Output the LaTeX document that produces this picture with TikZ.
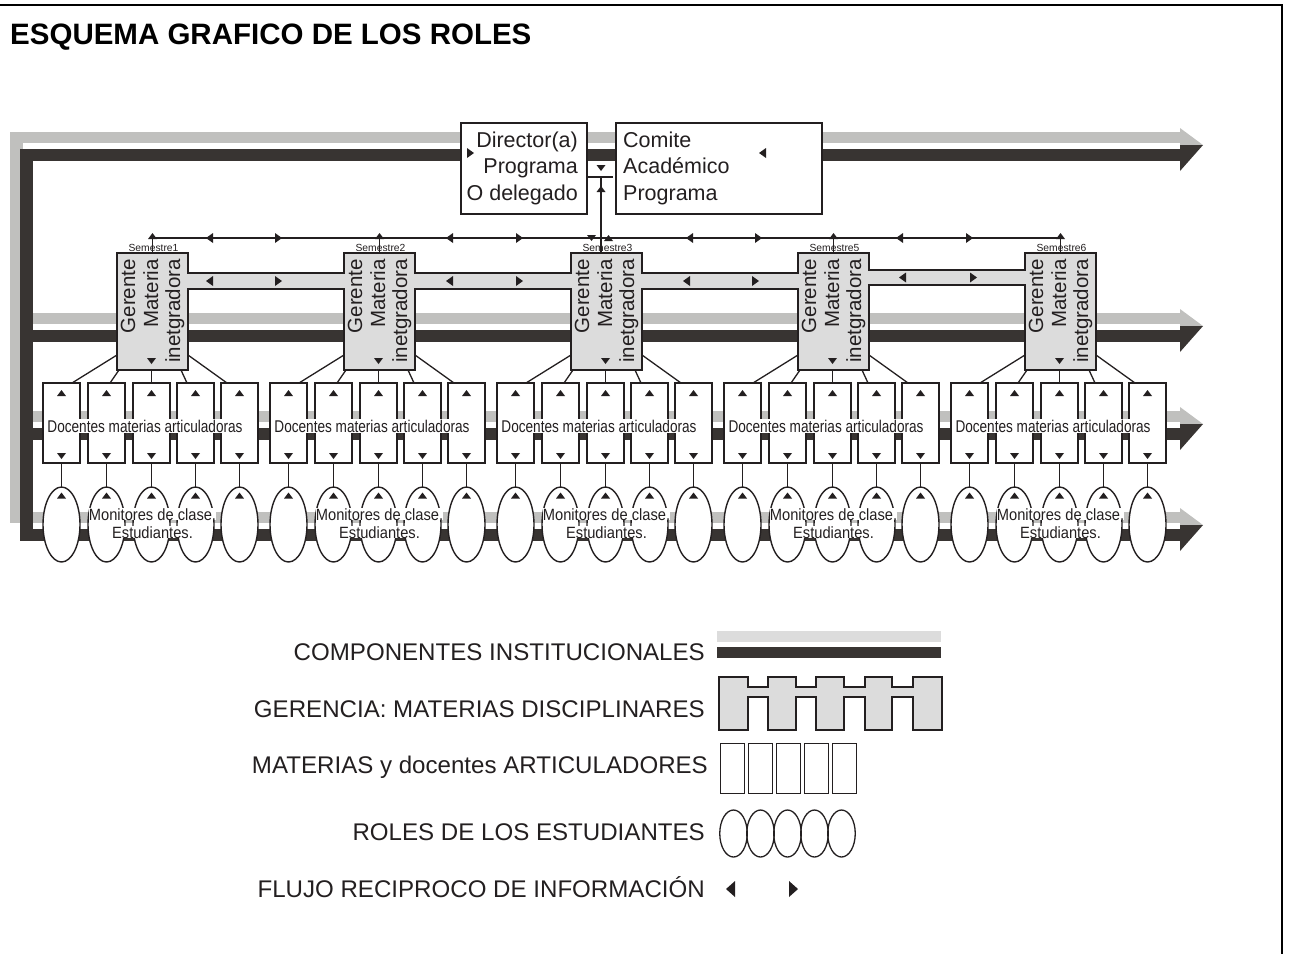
\documentclass[tikz,border=0pt]{standalone}
\usepackage{fontspec}
\setmainfont{Liberation Sans}
\usepackage{graphicx}
\usetikzlibrary{shapes.geometric}
\definecolor{bandgray}{RGB}{192,192,190}
\definecolor{banddark}{RGB}{56,52,50}
\definecolor{boxgray}{RGB}{220,220,220}
\definecolor{ink}{RGB}{35,31,32}
\newcommand\fDir{\fontsize{21.5}{26.5}\selectfont}
\newcommand\fGer{\fontsize{20.5}{22}\selectfont}
\newcommand\fSem{\fontsize{10.3}{10}\selectfont}
\newcommand\fDoc{\fontsize{17}{17}\selectfont}
\newcommand\fMon{\fontsize{16.3}{17}\selectfont}
\newcommand\fLeg{\fontsize{24.1}{25}\selectfont}
\newcommand\mytriR[2]{\fill[ink] (#1,#2) ++(-3,-5) -- ++(7,5) -- ++(-7,5) -- cycle;}
\newcommand\mytriL[2]{\fill[ink] (#1,#2) ++(3,-5) -- ++(-7,5) -- ++(7,5) -- cycle;}
\newcommand\mytriU[2]{\fill[ink] (#1,#2) ++(-4.5,3) -- ++(4.5,-6) -- ++(4.5,6) -- cycle;}
\newcommand\mytriD[2]{\fill[ink] (#1,#2) ++(-4.5,-3) -- ++(4.5,6) -- ++(4.5,-6) -- cycle;}
\tikzset{
  ln/.style={draw=ink, line width=1.3pt},
  topbox/.style={draw=ink, line width=1.5pt, fill=white, inner sep=0, anchor=north west},
  gerbox/.style={draw=ink, line width=1.5pt, fill=boxgray, minimum width=71pt, minimum height=117pt, inner sep=0, outer sep=0, anchor=north west},
  docbox/.style={draw=ink, line width=1.5pt, fill=white, minimum width=37pt, minimum height=80pt, inner sep=0, outer sep=0},
  roleell/.style={draw=ink, line width=1.4pt, fill=white, ellipse, minimum width=37pt, minimum height=75pt, inner sep=0, outer sep=0},
  txt/.style={inner sep=0, text=ink},
}
\begin{document}
\begin{tikzpicture}[x=1pt,y=-1pt]
\useasboundingbox (0,0) rectangle (1289,954);
% page frame
\draw[black, line width=1.5pt] (0,5) -- (1282,5) -- (1282,954);
\node[txt, anchor=base west, text=black, font=\fontsize{29.5}{30}\selectfont\bfseries] (title) at (10,44) {ESQUEMA GRAFICO DE LOS ROLES};

% institutional bands
\foreach \g in {132,313,411,512} {
  \fill[bandgray] (10,\g) rectangle (1180,\g+11);
  \fill[bandgray] (1180,\g-4) -- (1203,\g+13) -- (1180,\g+13) -- cycle;
}
\fill[bandgray] (10,132) rectangle (23,523);
\fill[banddark] (20,149) rectangle (33,541);
\foreach \g in {132,313,411,512} {
  \fill[banddark] (20,\g+17) rectangle (1180,\g+29);
  \fill[banddark] (1180,\g+13) -- (1203,\g+13) -- (1180,\g+39) -- cycle;
}

% director / comite
\node[topbox, minimum width=126pt, minimum height=91pt] (dir) at (460,122) {};
\node[topbox, minimum width=206pt, minimum height=91pt] (com) at (615,122) {};
\node[txt, anchor=base east, font=\fDir] (dirA) at (578,147) {Director(a)};
\node[txt, anchor=base east, font=\fDir] (dirB) at (578,173.5) {Programa};
\node[txt, anchor=base east, font=\fDir] (dirC) at (578,200) {O delegado};
\node[txt, anchor=base west, font=\fDir] (comA) at (623,147) {Comite};
\node[txt, anchor=base west, font=\fDir] (comB) at (623,173.5) {Académico};
\node[txt, anchor=base west, font=\fDir] (comC) at (623,200) {Programa};
\mytriR{470}{153}
\mytriL{763}{153}
\coordinate (jl) at (588,177);
\coordinate (jr) at (613,177);
\coordinate (jm) at (601,177);
\draw[ln] (jl) -- (jr);
\mytriD{601}{168}
\mytriU{601}{189}

% gerente boxes
\foreach \i in {0,...,4} {
  \pgfmathsetmacro\xo{117+227*\i}
  \node[gerbox] (G\i) at (\xo,253) {};
}
% bands between gerente boxes
\foreach \i/\j/\ya/\yb in {0/1/273/289, 1/2/273/289, 2/3/273/289, 3/4/270/285} {
  \fill[boxgray] ([xshift=-0.9pt]G\i.east |- 0,\ya) rectangle ([xshift=0.9pt]G\j.west |- 0,\yb);
  \draw[ln, line width=1.5pt] ([xshift=-0.75pt]G\i.east |- 0,\ya) -- ([xshift=0.75pt]G\j.west |- 0,\ya)
        ([xshift=-0.75pt]G\i.east |- 0,\yb) -- ([xshift=0.75pt]G\j.west |- 0,\yb);
}
\foreach \a in {210,450,687} {\mytriL{\a}{281}}
\foreach \a in {278,519,755} {\mytriR{\a}{281}}
\mytriL{903}{277.5}
\mytriR{973}{277.5}

% information line
\coordinate (I0) at (152.5,238);
\coordinate (I4) at (1061.5,238);
\draw[ln] (I0) -- (I4);
\draw[ln] (jm) -- (jm |- G2.north);
\foreach \a in {210,450,690,900} {\mytriL{\a}{238}}
\foreach \a in {278,519,758,969} {\mytriR{\a}{238}}
\mytriD{591.5}{238}
\mytriU{608.5}{238}

\foreach \i/\s in {0/1,1/2,2/3,3/5,4/6} {
  \pgfmathsetmacro\xo{117+227*\i}
  \node[txt, anchor=base, font=\fSem] (S\i) at (\xo+36.5,251.5) {Semestre\s};
  \ifnum\i=2\relax\else
    \draw[ln] (G\i.north) -- (G\i.north |- I0);
    \mytriU{\xo+35.5}{236}
  \fi
  \node[txt, rotate=90, anchor=base east, font=\fGer] (GA\i) at (\xo+18,259) {Gerente};
  \node[txt, rotate=90, anchor=base east, font=\fGer] (GB\i) at (\xo+41,259) {Materia};
  \node[txt, rotate=90, anchor=base east, font=\fGer] (GC\i) at (\xo+63,259) {inetgradora};
  \mytriD{\xo+34.5}{361}
  \foreach \k/\dx in {1/-55.5,2/-10.5,3/34.5,4/78.5,5/122.5} {
    \pgfmathsetmacro\cx{\xo+\dx}
    \node[docbox] (D\i\k) at (\cx,423) {};
    \mytriU{\cx}{393}
    \mytriD{\cx}{456}
    \node[roleell] (E\i\k) at (\cx,524.5) {};
    \mytriU{\cx}{495.5}
    \draw[ln] (D\i\k.south) -- (E\i\k.north);
  }
  \draw[ln] ([yshift=15pt]G\i.south west) -- ([xshift=10.5pt]D\i1.north);
  \draw[ln] ([xshift=2pt]G\i.south west) -- ([xshift=3.5pt]D\i2.north);
  \draw[ln] (D\i3.north |- G\i.south) -- (D\i3.north);
  \draw[ln] ([xshift=-7pt]G\i.south east) -- ([xshift=-8.5pt]D\i4.north);
  \draw[ln] ([yshift=15pt]G\i.south east) -- ([xshift=-12.5pt]D\i5.north);
  \node[txt, fill=white, inner sep=0.5pt, anchor=base, font=\fDoc] (DT\i) at (\xo+28,432) {\scalebox{0.8}[1]{Docentes materias articuladoras}};
  \node[txt, fill=white, inner sep=0.3pt, anchor=base, font=\fMon] (MA\i) at (\xo+35.5,520) {\scalebox{0.9}[1]{Monitores de clase.}};
  \node[txt, fill=white, inner sep=0.3pt, anchor=base, font=\fMon] (MB\i) at (\xo+35.5,538) {\scalebox{0.9}[1]{Estudiantes.}};
}

% legend
\node[txt, anchor=base east, font=\fLeg] (L1) at (705,660) {COMPONENTES INSTITUCIONALES};
\node[txt, anchor=base east, font=\fLeg] (L2) at (705,717) {GERENCIA: MATERIAS DISCIPLINARES};
\node[txt, anchor=base east, font=\fLeg] (L3) at (708,773) {MATERIAS y docentes ARTICULADORES};
\node[txt, anchor=base east, font=\fLeg] (L4) at (705,840) {ROLES DE LOS ESTUDIANTES};
\node[txt, anchor=base east, font=\fLeg] (L5) at (705,897) {FLUJO RECIPROCO DE INFORMACIÓN};
\fill[boxgray] (717,631) rectangle (941,642);
\fill[banddark] (717,647) rectangle (941,658);
\draw[ln, line width=1.5pt, fill=boxgray]
  (719,677) -- (748,677) -- (748,687) -- (768,687) -- (768,677) -- (796,677) -- (796,687)
  -- (816,687) -- (816,677) -- (844,677) -- (844,687) -- (865,687) -- (865,677) -- (892,677)
  -- (892,687) -- (913,687) -- (913,677) -- (942,677) -- (942,730) -- (913,730) -- (913,697)
  -- (892,697) -- (892,730) -- (865,730) -- (865,697) -- (844,697) -- (844,730) -- (816,730)
  -- (816,697) -- (796,697) -- (796,730) -- (768,730) -- (768,697) -- (748,697) -- (748,730)
  -- (719,730) -- cycle;
\foreach \k in {0,...,4} {
  \node[draw=ink, line width=1.4pt, fill=white, minimum width=24pt, minimum height=50pt, inner sep=0, anchor=north west] (LB\k) at (720+28*\k,743) {};
}
\foreach \k in {0,...,4} {
  \node[draw=ink, line width=1.3pt, ellipse, minimum width=27.5pt, minimum height=47pt, inner sep=0] (LE\k) at (733.5+27*\k,833.5) {};
}
\fill[ink] (726,889) -- (735,881) -- (735,897) -- cycle;
\fill[ink] (798,889) -- (789,881) -- (789,897) -- cycle;
\end{tikzpicture}
\end{document}
